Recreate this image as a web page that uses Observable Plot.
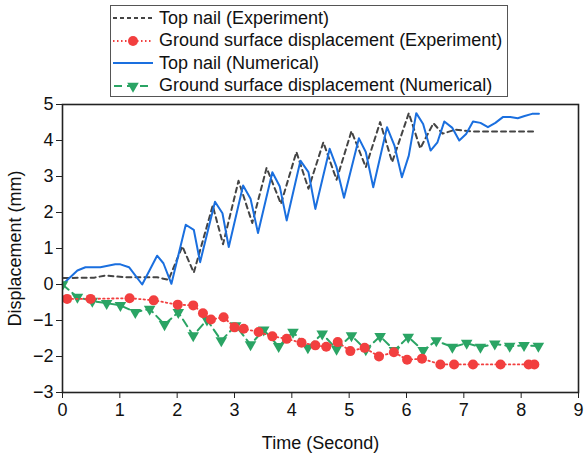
<!DOCTYPE html>
<html>
<head>
<meta charset="utf-8">
<script src="https://cdn.jsdelivr.net/npm/d3@7"></script>
<script src="https://cdn.jsdelivr.net/npm/@observablehq/plot@0.6"></script>
<style>
  html, body { margin: 0; padding: 0; background: #fff; }
  #wrap { position: relative; width: 587px; height: 457px; font-family: "Liberation Sans", Arial, sans-serif; }
  #legend { position: absolute; left: 110px; top: 5px; width: 398px; height: 92px; border: 1px solid #555; background: #fff; box-sizing: border-box; padding-top: 1px; }
  .row { display: flex; align-items: center; height: 22.5px; font-size: 18px; color: #111; white-space: nowrap; }
  .row svg { margin-left: 2px; margin-right: 6px; flex: none; }
</style>
</head>
<body>
<div id="wrap">
  <div id="chart"></div>
  <div id="legend"></div>
</div>
<script>
// ---- Data ----
const topNailExpT = [0.02,0.55,0.75,0.95,1.13,1.48,1.65,1.85,2.09,2.29,2.62,2.80,3.07,3.31,3.56,3.81,4.08,4.29,4.55,4.78,5.04,5.29,5.54,5.75,6.04,6.24,6.47,6.63,6.85,7.17,7.64,8.22];
const topNailExpV = [0.18,0.19,0.25,0.22,0.20,0.20,0.20,0.13,1.06,0.33,2.19,1.12,2.88,1.71,3.24,2.24,3.68,2.66,3.95,2.91,4.26,3.26,4.51,3.40,4.76,3.78,4.48,4.19,4.30,4.25,4.25,4.25];

const groundExpT = [0.08,0.49,1.17,1.59,2.01,2.28,2.45,2.59,2.81,3.00,3.16,3.42,3.66,3.91,4.17,4.41,4.60,4.80,5.02,5.27,5.52,5.78,6.01,6.27,6.59,6.83,7.16,7.64,8.13,8.23];
const groundExpV = [-0.40,-0.40,-0.38,-0.44,-0.56,-0.58,-0.80,-0.97,-0.91,-1.19,-1.23,-1.32,-1.44,-1.51,-1.62,-1.69,-1.73,-1.60,-1.85,-1.76,-2.00,-1.88,-2.09,-2.06,-2.22,-2.22,-2.22,-2.22,-2.22,-2.22];

const topNailNumT = [0,0.26,0.40,0.66,0.92,1.01,1.16,1.39,1.65,1.76,1.90,2.15,2.29,2.40,2.66,2.79,2.90,3.15,3.28,3.41,3.66,3.79,3.91,4.15,4.29,4.41,4.66,4.78,4.91,5.17,5.29,5.42,5.66,5.79,5.92,6.04,6.17,6.29,6.42,6.54,6.66,6.80,6.92,7.04,7.16,7.29,7.42,7.55,7.68,7.81,7.94,8.06,8.19,8.31];
const topNailNumV = [0,0.39,0.48,0.48,0.56,0.56,0.48,0.00,0.80,0.59,0.02,1.66,1.52,0.62,2.30,1.98,1.04,2.75,2.38,1.43,3.12,2.72,1.78,3.44,3.12,2.10,3.77,3.26,2.41,4.06,3.68,2.70,4.37,3.86,2.98,3.58,4.76,4.46,3.72,3.95,4.53,4.35,4.00,4.18,4.53,4.49,4.37,4.49,4.65,4.65,4.62,4.68,4.74,4.74];

const groundNumT = [0,0.26,0.52,0.77,1.01,1.27,1.52,1.78,2.02,2.28,2.52,2.77,3.02,3.28,3.51,3.77,4.02,4.28,4.53,4.78,5.04,5.29,5.54,5.79,6.03,6.29,6.52,6.80,7.05,7.29,7.54,7.80,8.05,8.30];
const groundNumV = [0,-0.35,-0.46,-0.52,-0.58,-0.77,-0.68,-1.11,-0.77,-1.42,-0.98,-1.56,-1.14,-1.67,-1.26,-1.72,-1.32,-1.75,-1.37,-1.79,-1.42,-1.81,-1.44,-1.83,-1.46,-1.83,-1.56,-1.74,-1.63,-1.74,-1.65,-1.71,-1.69,-1.71];

const xTicks = [0,1,2,3,4,5,6,7,8,9];
const yTicks = [-3,-2,-1,0,1,2,3,4,5];

const seriesNames = [
  "Top nail (Experiment)",
  "Ground surface displacement (Experiment)",
  "Top nail (Numerical)",
  "Ground surface displacement (Numerical)"
];

// ---- Build tables ----
const zip = (T, V) => T.map((t, i) => ({t, v: V[i]}));
const topExp = zip(topNailExpT, topNailExpV);
const grExp = zip(groundExpT, groundExpV);
const topNum = zip(topNailNumT, topNailNumV);
const grNum = zip(groundNumT, groundNumV);

const C_BLACK = "#444444", C_RED = "#f23f3f", C_BLUE = "#1a6fdf", C_GREEN = "#2aa464";

const triDown = {
  draw(ctx, size) {
    const s = Math.sqrt(size / (Math.sqrt(3) / 4));
    const h = s * Math.sqrt(3) / 2;
    ctx.moveTo(-s / 2, -h / 3);
    ctx.lineTo(s / 2, -h / 3);
    ctx.lineTo(0, 2 * h / 3);
    ctx.closePath();
  }
};

const chart = Plot.plot({
  width: 587,
  height: 457,
  marginLeft: 62,
  marginRight: 9,
  marginTop: 104,
  marginBottom: 65,
  style: {fontFamily: "'Liberation Sans', Arial, sans-serif", fontSize: "18px", color: "#111", background: "#fff"},
  x: {domain: [0, 9]},
  y: {domain: [-3, 5]},
  marks: [
    Plot.line(topExp, {x: "t", y: "v", stroke: C_BLACK, strokeWidth: 2, strokeDasharray: "5,4"}),
    Plot.line(topNum, {x: "t", y: "v", stroke: C_BLUE, strokeWidth: 2}),
    Plot.line(grNum, {x: "t", y: "v", stroke: C_GREEN, strokeWidth: 2, strokeDasharray: "8,5"}),
    Plot.dot(grNum, {x: "t", y: "v", symbol: triDown, r: 4.3, fill: C_GREEN, stroke: "none", clip: true}),
    Plot.line(grExp, {x: "t", y: "v", stroke: C_RED, strokeWidth: 1.8, strokeDasharray: "1.5,3"}),
    Plot.dot(grExp, {x: "t", y: "v", r: 5, fill: C_RED, stroke: "none"}),
    Plot.frame({stroke: "#222", strokeWidth: 1.6}),
    Plot.axisX(xTicks, {anchor: "bottom", tickSize: 6, tickPadding: 5, fontSize: 18, label: "Time (Second)", labelAnchor: "center", labelOffset: 56, labelArrow: "none", stroke: "#222"}),
    Plot.axisY(yTicks, {anchor: "left", tickSize: 6, tickPadding: 3, fontSize: 18, label: "Displacement (mm)", labelAnchor: "center", labelOffset: 54, labelArrow: "none", stroke: "#222"})
  ]
});
document.getElementById("chart").appendChild(chart);

// ---- Legend ----
const legend = document.getElementById("legend");
const samples = [
  `<line x1="0" y1="11" x2="40" y2="11" stroke="${C_BLACK}" stroke-width="2" stroke-dasharray="4,3"/>`,
  `<line x1="0" y1="11" x2="40" y2="11" stroke="${C_RED}" stroke-width="1.8" stroke-dasharray="1.5,2.5"/><circle cx="20" cy="11" r="5" fill="${C_RED}"/>`,
  `<line x1="0" y1="11" x2="40" y2="11" stroke="${C_BLUE}" stroke-width="2"/>`,
  `<line x1="0" y1="11" x2="40" y2="11" stroke="${C_GREEN}" stroke-width="2" stroke-dasharray="8,5" stroke-dashoffset="-1"/><path d="M14.2,7.7 L25.8,7.7 L20,17.7 Z" fill="${C_GREEN}"/>`
];
seriesNames.forEach((name, i) => {
  const row = document.createElement("div");
  row.className = "row";
  row.innerHTML = `<svg width="40" height="22">${samples[i]}</svg><span>${name}</span>`;
  legend.appendChild(row);
});
</script>
</body>
</html>
